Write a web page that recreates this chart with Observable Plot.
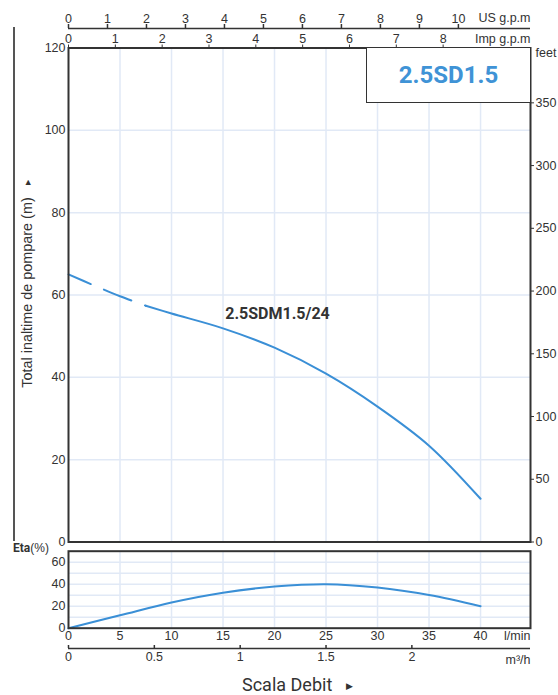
<!DOCTYPE html>
<html><head><meta charset="utf-8">
<script src="https://cdn.jsdelivr.net/npm/d3@7"></script>
<script src="https://cdn.jsdelivr.net/npm/@observablehq/plot@0.6"></script>
<style>
body{margin:0;background:#fff}
#chart{position:relative;width:558px;height:695px;font-family:"Liberation Sans",Arial,sans-serif;color:#333;overflow:hidden}
.abs{position:absolute}
</style></head>
<body><div id="chart"></div>
<script>
// ---- data ----
const flowLmin = [0, 2.5, 5, 7.5, 10, 15, 20, 25, 30, 35, 40];
const headM    = [65.0, 62.3, 59.7, 57.4, 55.5, 51.9, 47.2, 40.9, 32.9, 23.4, 10.5];
const etaFlow  = [0, 5, 10, 15, 20, 25, 30, 35, 40];
const etaPct   = [0, 11.7, 23.4, 32.3, 37.8, 40.0, 36.9, 30.1, 20.0];
const lminTicks   = [0, 5, 10, 15, 20, 25, 30, 35, 40];
const headTicks   = [0, 20, 40, 60, 80, 100, 120];
const feetTicks   = [0, 50, 100, 150, 200, 250, 300, 350];
const usGpmTicks  = [0, 1, 2, 3, 4, 5, 6, 7, 8, 9, 10];
const impGpmTicks = [0, 1, 2, 3, 4, 5, 6, 7, 8];
const m3hTicks    = [0, 0.5, 1, 1.5, 2];
const etaTicks    = [0, 20, 40, 60];
const etaGrid     = [10, 20, 30, 40, 50, 60];
const modelName = "2.5SD1.5";
const curveName = "2.5SDM1.5/24";
const dashedUpTo = 7.5;
const labelAt = 20;

// ---- conversions ----
const xMaxLmin = 44.85;
const LMIN_PER_USGPM = 3.785, LMIN_PER_IMPGPM = 4.546, M3H_PER_LMIN = 0.06, M_PER_FT = 0.3048;

const head = flowLmin.map((q, i) => ({q, h: headM[i]}));
const eta = etaFlow.map((q, i) => ({q, e: etaPct[i]}));

const W = 558, ML = 68, MR = 28;
const FS = 12.5;
const blue = "#3a8fd6", grid = "#e1e9f6", dark = "#333";
const chart = document.getElementById("chart");
const baseStyle = {fontFamily: "'Liberation Sans', Arial, sans-serif", fontSize: FS + "px", color: "#333", background: "transparent", overflow: "visible"};
function place(el, top) { el.style.position = "absolute"; el.style.left = "0px"; el.style.top = top + "px"; chart.appendChild(el); }
const lbl = (s, o) => Plot.text([s], {text: d => d, fontSize: FS, lineAnchor: "middle", fill: "#333", ...o});

// US gpm axis
place(Plot.plot({
  width: W, height: 30, marginLeft: ML, marginRight: MR, marginTop: 24, marginBottom: 2,
  style: baseStyle,
  x: {domain: [0, xMaxLmin / LMIN_PER_USGPM]},
  y: {domain: [0, 1], axis: null},
  marks: [
    Plot.tickX(usGpmTicks, {x: d => d, stroke: dark, strokeWidth: 1.5}),
    Plot.ruleY([0], {stroke: dark, strokeWidth: 1.5}),
    Plot.axisX(usGpmTicks, {anchor: "top", tickSize: 0, tickPadding: 2, fontSize: FS, label: null, tickFormat: d => String(d)}),
    lbl("US g.p.m", {frameAnchor: "top-right", dy: -7, textAnchor: "end"})
  ]
}), 0);

// main head chart
place(Plot.plot({
  width: W, height: 514, marginLeft: ML, marginRight: MR, marginTop: 15.5, marginBottom: 4.5,
  style: baseStyle,
  x: {domain: [0, xMaxLmin]},
  y: {domain: [0, 120]},
  marks: [
    Plot.gridX(lminTicks.filter(d => d > 0), {stroke: grid, strokeOpacity: 1, strokeWidth: 1.5}),
    Plot.gridY(headTicks.filter(d => d > 0 && d < 120), {stroke: grid, strokeOpacity: 1, strokeWidth: 1.5}),
    Plot.line(head.filter(d => d.q <= dashedUpTo), {x: "q", y: "h", stroke: blue, strokeWidth: 2, strokeDasharray: "29.5,14.5", strokeDashoffset: 5.5, curve: "catmull-rom"}),
    Plot.line(head.filter(d => d.q >= dashedUpTo), {x: "q", y: "h", stroke: blue, strokeWidth: 2, curve: "catmull-rom"}),
    Plot.text(head.filter(d => d.q === labelAt), {x: "q", y: "h", text: () => curveName, dy: -34, dx: 3, fontWeight: "bold", fontSize: 16, fontFamily: "Roboto", fill: "#333"}),
    Plot.frame({stroke: dark, strokeWidth: 2}),
    Plot.axisY(headTicks, {anchor: "left", tickSize: 0, tickPadding: 3, fontSize: FS, label: null}),
    Plot.axisY(feetTicks.map(f => f * M_PER_FT), {anchor: "right", tickSize: 3, tickPadding: 2, fontSize: FS, label: null, tickFormat: d => String(Math.round(d / M_PER_FT))}),
    Plot.axisX(impGpmTicks.map(g => g * LMIN_PER_IMPGPM), {anchor: "top", tickSize: 4, tickPadding: 1, fontSize: FS, label: null, tickFormat: d => String(Math.round(d / LMIN_PER_IMPGPM))}),
    lbl("Imp g.p.m", {frameAnchor: "top-right", dy: -9, textAnchor: "end"}),
    lbl("feet", {frameAnchor: "top-right", dx: 5, dy: 5, textAnchor: "start"})
  ]
}), 32);

// efficiency chart
place(Plot.plot({
  width: W, height: 95, marginLeft: ML, marginRight: MR, marginTop: 5.7, marginBottom: 12.3,
  style: baseStyle,
  x: {domain: [0, xMaxLmin]},
  y: {domain: [0, 70]},
  marks: [
    Plot.gridX(lminTicks.filter(d => d > 0), {stroke: grid, strokeOpacity: 1, strokeWidth: 1.5}),
    Plot.gridY(etaGrid, {stroke: grid, strokeOpacity: 1, strokeWidth: 1.5}),
    Plot.line(eta, {x: "q", y: "e", stroke: blue, strokeWidth: 2, curve: "catmull-rom"}),
    Plot.frame({stroke: dark, strokeWidth: 2}),
    Plot.axisY(etaTicks, {anchor: "left", tickSize: 0, tickPadding: 3, fontSize: FS, label: null}),
    Plot.axisX(lminTicks, {anchor: "bottom", tickSize: 0, tickPadding: 3, fontSize: FS, label: null}),
    lbl("l/min", {frameAnchor: "bottom-right", dy: 8, textAnchor: "end"})
  ]
}), 545);

// m3/h axis
place(Plot.plot({
  width: W, height: 35, marginLeft: ML, marginRight: MR, marginTop: 5, marginBottom: 27,
  style: baseStyle,
  x: {domain: [0, xMaxLmin * M3H_PER_LMIN]},
  y: {domain: [0, 1], axis: null},
  marks: [
    Plot.tickX(m3hTicks, {x: d => d, stroke: dark, strokeWidth: 1.5}),
    Plot.ruleY([0], {stroke: dark, strokeWidth: 1.5}),
    Plot.axisX(m3hTicks, {anchor: "bottom", tickSize: 0, tickPadding: 4, fontSize: FS, label: null, tickFormat: d => String(d)}),
    lbl("m³/h", {frameAnchor: "bottom-right", dy: 11, textAnchor: "end"})
  ]
}), 640);

// HTML annotations
function div(css, html) { const d = document.createElement("div"); d.className = "abs"; d.style.cssText = css; d.innerHTML = html || ""; chart.appendChild(d); return d; }
div("left:13px;top:27px;width:1.5px;height:514px;background:#555");
div("left:27px;top:284px;transform:translate(-50%,-50%) rotate(-90deg);white-space:nowrap;font-size:14.4px;color:#333", "Total inaltime de pompare (m)&nbsp;&nbsp;&nbsp;<span style='font-size:7px;vertical-align:middle'>&#9654;</span>");
div("left:13px;top:541px;font-size:12px;color:#333;white-space:nowrap", "<b style='font-family:Roboto'>Eta</b>(%)");
div("left:366px;top:47px;width:163px;height:54px;border:1px solid #333;background:#fff;display:flex;align-items:center;justify-content:center;font-family:Roboto;font-weight:bold;font-size:24px;color:#3f93d6", modelName);
div("left:242px;top:674px;font-family:Roboto;font-size:18px;color:#333;white-space:nowrap", "Scala Debit&nbsp;&nbsp;&nbsp;<span style='font-size:9px;vertical-align:middle'>&#9654;</span>");
</script></body></html>
